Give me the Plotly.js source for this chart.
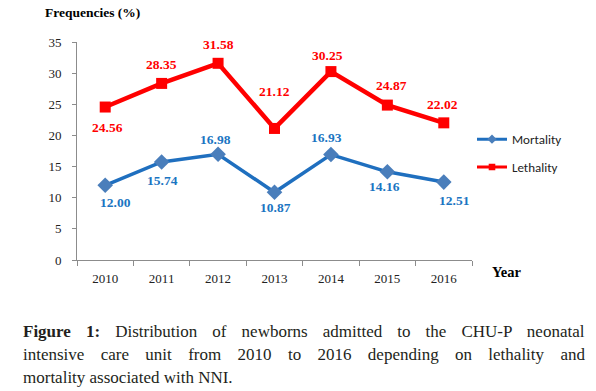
<!DOCTYPE html>
<html>
<head>
<meta charset="utf-8">
<script src="https://cdn.plot.ly/plotly-3.0.1.min.js"></script>
<style>
html,body{margin:0;padding:0;background:#fff;}
#chart{width:596px;height:391px;}
#chart .legend .legendpoints path { transform: translate(20px, 0px) scale(0.6) !important; }
#chart .legend .legendlines path { stroke-width: 3px !important; }
</style>
</head>
<body>
<div id="chart"></div>
<script>
var years = ["2010","2011","2012","2013","2014","2015","2016"];
var mortality = [12.00, 15.74, 16.98, 10.87, 16.93, 14.16, 12.51];
var lethality = [24.56, 28.35, 31.58, 21.12, 30.25, 24.87, 22.02];
var yTicks = [0,5,10,15,20,25,30,35];

// label offsets (pixels) - styling only
var mortShiftY = [17, 19, -15, 15, -17, 15, 18];
var mortShiftX = [10, 1, -3, 1, -4, -3, 11];
var lethShiftY = [20, -19, -19, -37, -16, -20, -18];
var lethShiftX = [2, 0, 0, 0, -3, 4, -1];

var serif = "'Liberation Serif', 'Times New Roman', serif";
var blueLine = "#1F6FBF";
var blueMarker = "#4A7EBB";
var blueText = "#1B75C2";
var red = "#FF0000";

var traces = [
  {x: years, y: mortality, name: "Mortality", type: "scatter", mode: "lines+markers",
   line: {color: blueLine, width: 3.5}, marker: {symbol: "diamond", size: 12, color: blueMarker},
   legendgroup: "m", cliponaxis: false},
  {x: years, y: lethality, name: "Lethality", type: "scatter", mode: "lines+markers",
   line: {color: red, width: 4.5}, marker: {symbol: "square", size: 11, color: red},
   legendgroup: "l", cliponaxis: false}
];

var annotations = [];
years.forEach(function(yr, i){
  annotations.push({x: i, y: mortality[i], xref: "x", yref: "y", text: "<b>" + mortality[i].toFixed(2) + "</b>",
    showarrow: false, xshift: mortShiftX[i], yshift: -mortShiftY[i],
    font: {family: serif, size: 13.5, color: blueText}});
  annotations.push({x: i, y: lethality[i], xref: "x", yref: "y", text: "<b>" + lethality[i].toFixed(2) + "</b>",
    showarrow: false, xshift: lethShiftX[i], yshift: -lethShiftY[i],
    font: {family: serif, size: 13.5, color: red}});
});

annotations.push({xref: "paper", yref: "paper", x: -0.087, y: 1.09, xanchor: "left", yanchor: "bottom",
  text: "<b>Frequencies (%)</b>", showarrow: false, font: {family: serif, size: 13.5, color: "#000"}});
annotations.push({xref: "paper", yref: "paper", x: 1.045, y: -0.055, xanchor: "left", yanchor: "middle",
  text: "<b>Year</b>", showarrow: false, font: {family: serif, size: 14.5, color: "#000"}});

// caption lines, justified via word-spacing
var captionLines = [
  ["<b>Figure 1:</b> Distribution of newborns admitted to the CHU-P neonatal", "Figure 1: Distribution of newborns admitted to the CHU-P neonatal", true],
  ["intensive care unit from 2010 to 2016 depending on lethality and", "intensive care unit from 2010 to 2016 depending on lethality and", true],
  ["mortality associated with NNI.", "mortality associated with NNI.", false]
];
var capSize = 17;
var capWidth = 562;
var cv = document.createElement("canvas").getContext("2d");
var capY = [331, 354, 377];
captionLines.forEach(function(l, i){
  var ws = 0;
  if (l[2]) {
    var plain = l[1];
    var w;
    if (i === 0) {
      cv.font = "bold " + capSize + "px 'Liberation Serif'";
      var bw = cv.measureText("Figure 1:").width;
      cv.font = capSize + "px 'Liberation Serif'";
      w = bw + cv.measureText(plain.slice(9)).width;
    } else {
      cv.font = capSize + "px 'Liberation Serif'";
      w = cv.measureText(plain).width;
    }
    var nsp = plain.split(" ").length - 1;
    ws = (capWidth - w) / nsp;
  }
  annotations.push({xref: "paper", yref: "paper",
    x: (21 - 77) / 395, y: (260 - capY[i]) / 218, xanchor: "left", yanchor: "middle",
    text: "<span style='word-spacing:" + ws.toFixed(2) + "px'>" + l[0] + "</span>",
    showarrow: false, font: {family: serif, size: capSize, color: "#231F20"}});
});

var layout = {
  width: 596, height: 391, autosize: false,
  margin: {l: 77, r: 124, t: 42, b: 131, pad: 0},
  paper_bgcolor: "#fff", plot_bgcolor: "#fff",
  showlegend: true,
  legend: {x: 1.0, y: 0.49, xanchor: "left", yanchor: "middle", tracegroupgap: 8,
    font: {family: "Carlito, 'Liberation Sans', Arial, sans-serif", size: 13, color: "#222"},
    bgcolor: "rgba(0,0,0,0)", itemwidth: 30},
  xaxis: {type: "category", categoryorder: "array", categoryarray: years, range: [-0.5, 6.5],
    autorange: false,
    showline: true, linecolor: "#8C8C8C", linewidth: 1, showgrid: false, zeroline: false,
    ticks: "outside", tickson: "boundaries", ticklen: 5, tickcolor: "#8C8C8C", tickangle: 0,
    tickfont: {family: serif, size: 13, color: "#222"}, ticklabelstandoff: 6, fixedrange: true},
  yaxis: {range: [0, 35], autorange: false, tickvals: yTicks, showline: true, linecolor: "#8C8C8C", linewidth: 1,
    showgrid: false, zeroline: false, ticks: "outside", ticklen: 4, tickcolor: "#8C8C8C",
    tickfont: {family: serif, size: 13, color: "#222"}, ticklabelstandoff: 8, fixedrange: true},
  annotations: annotations
};

Plotly.newPlot("chart", traces, layout, {displayModeBar: false, staticPlot: true});
</script>
</body>
</html>
